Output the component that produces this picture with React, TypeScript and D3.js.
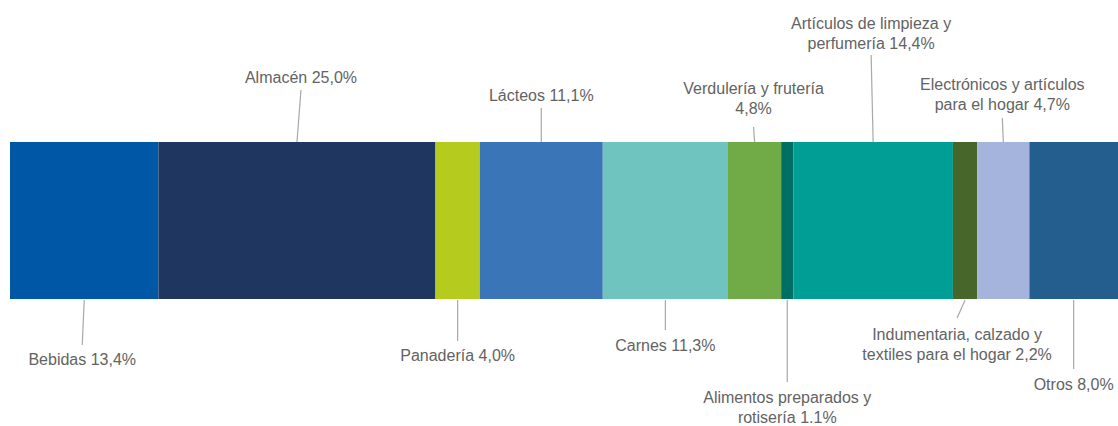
import React from 'react';
import * as d3 from 'd3';

// Share of sales by category (%)
const categories = [
  'Bebidas',
  'Almacén',
  'Panadería',
  'Lácteos',
  'Carnes',
  'Verdulería y frutería',
  'Alimentos preparados y rotisería',
  'Artículos de limpieza y perfumería',
  'Indumentaria, calzado y textiles para el hogar',
  'Electrónicos y artículos para el hogar',
  'Otros',
];
const values = [13.4, 25.0, 4.0, 11.1, 11.3, 4.8, 1.1, 14.4, 2.2, 4.7, 8.0];
const labelLines = [
  ['Bebidas 13,4%'],
  ['Almacén 25,0%'],
  ['Panadería 4,0%'],
  ['Lácteos 11,1%'],
  ['Carnes 11,3%'],
  ['Verdulería y frutería', '4,8%'],
  ['Alimentos preparados y', 'rotisería 1.1%'],
  ['Artículos de limpieza y', 'perfumería 14,4%'],
  ['Indumentaria, calzado y', 'textiles para el hogar 2,2%'],
  ['Electrónicos y artículos', 'para el hogar 4,7%'],
  ['Otros 8,0%'],
];

const colors = [
  '#0057a6', '#1f3760', '#b5cc1f', '#3a75b8', '#70c4bf', '#70ab47',
  '#006f63', '#009e94', '#466729', '#a5b4dc', '#245e8f',
];

// label placement: side of the bar, end of leader, first baseline, x shift of the label
const layout = [
  { side: 'bottom', lineEnd: 345, base: 365, dx: -2 },
  { side: 'top', lineEnd: 90, base: 83, dx: 4 },
  { side: 'bottom', lineEnd: 341, base: 361, dx: 0 },
  { side: 'top', lineEnd: 108, base: 101, dx: 0 },
  { side: 'bottom', lineEnd: 330, base: 351, dx: 0 },
  { side: 'top', lineEnd: 127, base: 94, dx: -1 },
  { side: 'bottom', lineEnd: 382, base: 403, dx: 0 },
  { side: 'top', lineEnd: 55, base: 29, dx: -2 },
  { side: 'bottom', lineEnd: 318, base: 340, dx: -8 },
  { side: 'top', lineEnd: 118, base: 90, dx: -1 },
  { side: 'bottom', lineEnd: 369, base: 390, dx: 0 },
];

const width = 1118;
const height = 426;
const barTop = 142;
const barBottom = 299;
const lineHeight = 19.5;

export default function App() {
  const x = d3.scaleLinear().domain([0, d3.sum(values)]).range([10, width]);
  const ends = Array.from(d3.cumsum(values));
  const segments = values.map((v, i) => ({
    name: categories[i],
    start: ends[i] - v,
    end: ends[i],
  }));

  return (
    <svg
      width={width}
      height={height}
      style={{ position: 'absolute', left: 0, top: 0 }}
      fontFamily="'Liberation Sans', Arial, sans-serif"
    >
      {segments.map((s, i) => (
        <rect
          key={s.name}
          x={x(s.start)}
          y={barTop}
          width={x(s.end) - x(s.start)}
          height={barBottom - barTop}
          fill={colors[i]}
        />
      ))}
      {segments.map((s, i) => {
        const l = layout[i];
        const cx = x((s.start + s.end) / 2);
        const anchorY = l.side === 'top' ? barTop : barBottom + 1;
        const lx = cx + l.dx;
        return (
          <g key={s.name + '-label'}>
            <line
              x1={cx}
              y1={anchorY}
              x2={cx + l.dx}
              y2={l.lineEnd}
              stroke="#a8a8a8"
              strokeWidth={1.2}
            />
            <text x={lx} textAnchor="middle" fontSize={16} fill="#636363">
              {labelLines[i].map((t, j) => (
                <tspan key={j} x={lx} y={l.base + j * lineHeight}>
                  {t}
                </tspan>
              ))}
            </text>
          </g>
        );
      })}
    </svg>
  );
}
